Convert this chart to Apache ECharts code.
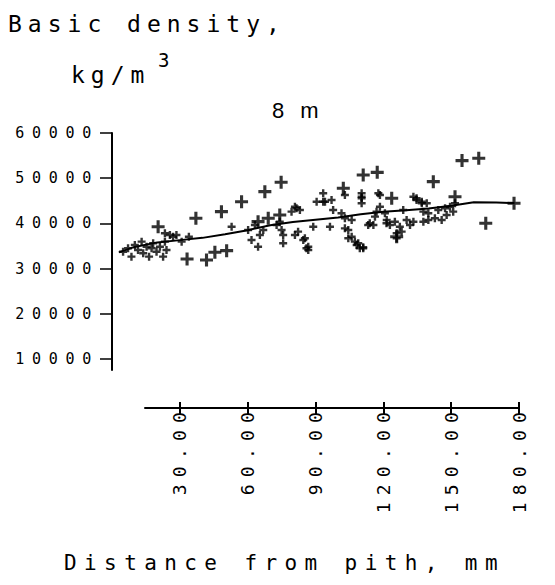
<!DOCTYPE html>
<html>
<head>
<meta charset="utf-8">
<script src="https://cdn.jsdelivr.net/npm/echarts@6/dist/echarts.min.js"></script>
<style>
  html, body { margin: 0; padding: 0; background: #fff; }
  #chart { width: 555px; height: 585px; }
</style>
</head>
<body>
<div id="chart"></div>
<script>
// ---- data (distance from pith in mm, basic density) ----
const xTickValues = [30, 60, 90, 120, 150, 180];
const xTickLabels = ['30.00', '60.00', '90.00', '120.00', '150.00', '180.00'];
const yTickValues = [10000, 20000, 30000, 40000, 50000, 60000];
const yTickLabels = ['10000', '20000', '30000', '40000', '50000', '60000'];

const trendX = [3, 10, 20, 30, 40, 50, 60, 70, 80, 90, 100, 110, 120, 130, 140, 150, 160, 170, 178];
const trendY = [33600, 34800, 35800, 36300, 36800, 37600, 38500, 39600, 40300, 40800, 41300, 42000, 42600, 42900, 43300, 43900, 44700, 44600, 44500];

const largePoints = [
  [20.4,39270],[37.1,41130],[48.4,42600],[57.3,44800],[33.2,32130],[41.8,31900],
  [45.5,33610],[50.7,33970],[67.6,47020],[74.8,49100],[111.1,50710],[117.3,51300],
  [142.1,49230],[154.8,53900],[162.2,54400],[165.3,40030],[177.8,44450],[64.6,40380],
  [69.1,41130],[74.2,41860],[102.3,47770],[123.7,45550],[151.7,45910],[125.9,37060]
];

const smallPoints = [
  [4.9,33740],[7.1,34500],[8.6,32640],[10.1,35230],[11.5,34120],[13.1,35960],[13.8,33390],
  [15.3,34850],[16.4,32640],[17.5,34500],[18.2,35600],[19.7,33740],[21.2,34850],[22.6,32640],
  [24.1,34120],[23.4,37810],[27,37060],[28.5,37440],[30.8,35960],[23.4,35960],[25.6,37440],
  [34,37060],[52.9,39270],[60.2,38540],[61.7,36330],[63.2,39660],[65.4,37440],[64.6,34850],
  [66.9,38540],[72.8,39660],[75,38540],[75.7,37440],[79.4,42600],[83.1,42970],[82.3,38170],
  [85.3,36700],[86.8,34850],[89,39270],[94.2,44800],[97.1,45180],[97.8,42970],[96.4,39270],
  [101.5,42260],[103,38910],[104.5,36700],[107.4,35960],[108.2,35230],[109.6,34500],[106,40760],
  [110.4,44450],[113.3,39660],[115.6,39660],[116.3,41490],[118.5,43700],[110.4,45910],
  [118.5,46290],[120.7,42240],[121.5,40760],[122.9,39660],[125.1,40380],[127.3,39270],
  [128.8,42970],[128.1,38170],[130.3,40760],[133.3,40380],[134.7,45180],[137,44800],
  [139.2,44450],[137.7,42600],[139.9,42260],[137.7,40380],[139.9,40760],[142.8,41130],
  [144.3,42970],[145.8,40760],[147.3,43340],[148,41860],[149.5,43700],[150.9,42600],
  [151.7,44450],[74.2,40380],[81.6,43340],[80.9,37440],[84.6,36330],[86.8,34120],
  [93.4,44800],[103,46290],[104.5,38540],[106,37060],[108.9,35600],[111.1,34500],
  [110.4,45550],[117,42600],[114,40030],[121.4,40030],[125.9,37810],[125.9,36700],
  [131.8,39660],[134.7,45550],[137,44450],[133.3,45910],[111.1,34720],[86,34500],
  [75.7,35600],[103,41130],[93.4,46660],[90.5,44800],[80.9,43700],[110.4,46660],[117.8,46660]
];

// ---- chart ----
const INK = '#000000';
const MONO = '"DejaVu Sans Mono", "Liberation Mono", monospace';
const PLUS_BIG = 'path://M0,3.8H3.8V0H6.2V3.8H10V6.2H6.2V10H3.8V6.2H0Z';
const PLUS_SMALL = 'path://M0,3.5H3.5V0H6.5V3.5H10V6.5H6.5V10H3.5V6.5H0Z';
// letter spacing (px) of the wide-spaced plotter lettering, keyed by font size
const LETTER_SPACING = { 23: 6, 15: 7.7, 18: 7.2, 21: 7.4, 22: 5 };

const trendData = trendX.map((x, i) => [x, trendY[i]]);

const chart = echarts.init(document.getElementById('chart'), null, { renderer: 'svg' });

const textStyle = (size, family) => ({
  fontSize: size, fontFamily: family || MONO, fill: INK,
  align: 'left', verticalAlign: 'middle', textAlign: 'left', textVerticalAlign: 'middle'
});

chart.setOption({
  backgroundColor: '#ffffff',
  animation: false,
  grid: [
    { left: 112, top: 133, width: 407, height: 275 },   // data
    { left: 112, top: 133, width: 407, height: 237 },   // y axis
    { left: 145, top: 133, width: 374, height: 275 }    // x axis
  ],
  xAxis: [
    { gridIndex: 0, type: 'value', min: 0, max: 180, show: false },
    { gridIndex: 1, type: 'value', min: 0, max: 180, show: false },
    {
      gridIndex: 2, type: 'value', min: 14.6, max: 180, position: 'bottom',
      axisLine: { show: true, lineStyle: { color: INK, width: 2 } },
      axisTick: { show: true, length: 7, lineStyle: { color: INK, width: 2 }, customValues: xTickValues },
      axisLabel: {
        show: true, rotate: 90, margin: -3, color: INK, fontSize: 18, fontFamily: MONO,
        customValues: xTickValues,
        formatter: v => xTickLabels[xTickValues.indexOf(v)] || ''
      },
      splitLine: { show: false }
    },
    {
      gridIndex: 2, type: 'value', min: 14.6, max: 180, position: 'bottom',
      axisLine: { show: false },
      axisTick: { show: true, inside: true, length: 6, lineStyle: { color: INK, width: 2 }, customValues: xTickValues },
      axisLabel: { show: false },
      splitLine: { show: false }
    }
  ],
  yAxis: [
    { gridIndex: 0, type: 'value', min: -840, max: 60000, show: false },
    {
      gridIndex: 1, type: 'value', min: 7570, max: 60000, position: 'left',
      axisLine: { show: true, lineStyle: { color: INK, width: 2 } },
      axisTick: { show: true, length: 12, lineStyle: { color: INK, width: 1.5 }, customValues: yTickValues },
      axisLabel: {
        show: true, margin: 13, color: INK, fontSize: 15, fontFamily: MONO,
        customValues: yTickValues,
        formatter: v => yTickLabels[yTickValues.indexOf(v)] || ''
      },
      splitLine: { show: false }
    },
    { gridIndex: 2, type: 'value', min: 0, max: 60000, show: false }
  ],
  graphic: [
    { type: 'text', x: 8, y: 24, style: Object.assign({ text: 'Basic density,' }, textStyle(23)) },
    { type: 'text', x: 71, y: 75, style: Object.assign({ text: 'kg/m' }, textStyle(23)) },
    { type: 'text', x: 158, y: 60, style: Object.assign({ text: '3' }, textStyle(19)) },
    { type: 'text', x: 272, y: 110, style: Object.assign({ text: '8 m' }, textStyle(22, '"Liberation Sans", Arial, sans-serif')) },
    { type: 'text', x: 64, y: 563, style: Object.assign({ text: 'Distance from pith, mm' }, textStyle(21)) }
  ],
  series: [
    {
      type: 'scatter', xAxisIndex: 0, yAxisIndex: 0, data: smallPoints,
      symbol: PLUS_SMALL, symbolSize: 8, itemStyle: { color: INK }, silent: true
    },
    {
      type: 'line', xAxisIndex: 0, yAxisIndex: 0, data: trendData,
      showSymbol: false, lineStyle: { color: INK, width: 2 }, silent: true
    },
    {
      type: 'scatter', xAxisIndex: 0, yAxisIndex: 0, data: largePoints,
      symbol: PLUS_BIG, symbolSize: 13, itemStyle: { color: INK }, silent: true
    }
  ]
});

function applyLetterSpacing() {
  document.querySelectorAll('#chart svg text').forEach(t => {
    const fs = Math.round(parseFloat(getComputedStyle(t).fontSize));
    if (LETTER_SPACING[fs] != null) {
      t.setAttribute('letter-spacing', LETTER_SPACING[fs]);
      t.style.letterSpacing = LETTER_SPACING[fs] + 'px';
    }
  });
}
applyLetterSpacing();
chart.on('finished', applyLetterSpacing);
setTimeout(applyLetterSpacing, 30);
setTimeout(applyLetterSpacing, 200);
</script>
</body>
</html>
